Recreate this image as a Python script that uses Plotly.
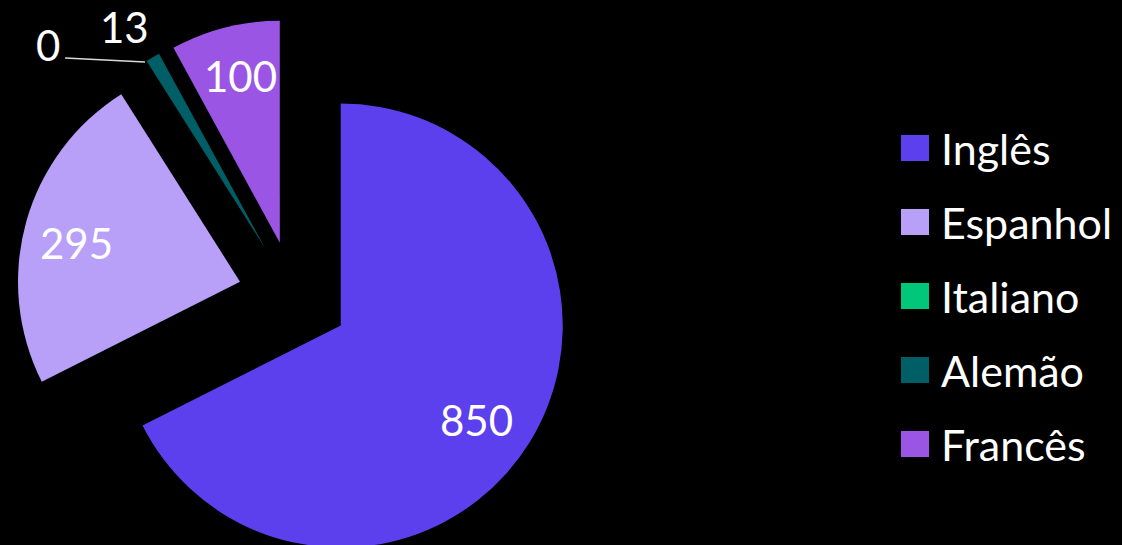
import math
import plotly.graph_objects as go

# Speakers per language
languages = ["Inglês", "Espanhol", "Italiano", "Alemão", "Francês"]
speakers = [850, 295, 0, 13, 100]
colors = ["#5C40EE", "#B89FF8", "#00C77A", "#005E66", "#9B55E5"]

FONT = "Lato"
LABEL_SIZE = 42
LEGEND_SIZE = 43
W, H = 1122, 580
M_T, M_B = 19, 6
PULL = 0.25
BOX_L, BOX_R = 16, 571          # horizontal extent of the pie domain, px

# small pixel nudges applied to each value label after radial placement
LABEL_NUDGE = [(-6.5, 7.5), (-3, 5.5), (0, 0), (-7.5, 4.5), (1.5, -5)]

plot_h = H - M_T - M_B
box_w = BOX_R - BOX_L
radius = min(box_w, plot_h) / 2 / (1 + PULL)
cx = (BOX_L + BOX_R) / 2
cy = M_T + plot_h / 2


def to_paper(px, py):
    return px / W, 1 - (py - M_T) / plot_h


def direction(angle_deg):
    a = math.radians(angle_deg)
    return math.sin(a), -math.cos(a)


fig = go.Figure(
    go.Pie(
        labels=languages,
        values=speakers,
        marker=dict(colors=colors, line=dict(width=0)),
        pull=[PULL] * len(speakers),
        sort=False,
        direction="clockwise",
        rotation=0,
        textinfo="none",
        hoverinfo="label+value",
        showlegend=False,
        domain=dict(x=[BOX_L / W, BOX_R / W], y=[0, 1]),
    )
)

# Value labels placed along each slice's mid-angle
total = sum(speakers)
annotations = []
shapes = []
cum = 0
for val, (nx, ny) in zip(speakers, LABEL_NUDGE):
    start = cum / total * 360
    cum += val
    end = cum / total * 360
    mid = (start + end) / 2
    dx, dy = direction(mid)
    ax_, ay_ = cx + PULL * radius * dx, cy + PULL * radius * dy
    if val == 0:
        # zero slice: label pulled aside with a leader line to the rim
        ex, ey = ax_ + radius * dx, ay_ + radius * dy
        x0, y0 = to_paper(ex, ey)
        x1, y1 = to_paper(ex - 80, ey - 4)
        shapes.append(dict(type="line", xref="paper", yref="paper",
                           x0=x0, y0=y0, x1=x1, y1=y1,
                           line=dict(color="#d9d9d9", width=1.5)))
        px, py = ex - 97, ey - 17
    elif val / total < 0.03:
        px, py = ax_ + 1.18 * radius * dx, ay_ + 1.18 * radius * dy
    else:
        px, py = ax_ + 0.75 * radius * dx, ay_ + 0.75 * radius * dy
    tx, ty = to_paper(px + nx, py + ny)
    annotations.append(dict(text=str(val), x=tx, y=ty, xref="paper", yref="paper",
                            xanchor="center", yanchor="middle", showarrow=False,
                            font=dict(family=FONT, size=LABEL_SIZE, color="white")))

# Legend: coloured squares with language names
LEG_X, LEG_Y0, LEG_STEP = 901, 148, 74
SQ_W, SQ_H = 28, 26
for i, (name, col) in enumerate(zip(languages, colors)):
    yc = LEG_Y0 + i * LEG_STEP
    x0, y0 = to_paper(LEG_X, yc + SQ_H / 2)
    x1, y1 = to_paper(LEG_X + SQ_W, yc - SQ_H / 2)
    shapes.append(dict(type="rect", xref="paper", yref="paper",
                       x0=x0, y0=y0, x1=x1, y1=y1,
                       fillcolor=col, line=dict(width=0)))
    tx, ty = to_paper(LEG_X + SQ_W + 10, yc)
    annotations.append(dict(text=name, x=tx, y=ty, xref="paper", yref="paper",
                            xanchor="left", yanchor="middle", showarrow=False,
                            font=dict(family=FONT, size=LEGEND_SIZE, color="white")))

fig.update_layout(
    width=W,
    height=H,
    margin=dict(l=0, r=0, t=M_T, b=M_B, pad=0),
    paper_bgcolor="black",
    plot_bgcolor="black",
    annotations=annotations,
    shapes=shapes,
    showlegend=False,
)

fig.write_html("out.html")
